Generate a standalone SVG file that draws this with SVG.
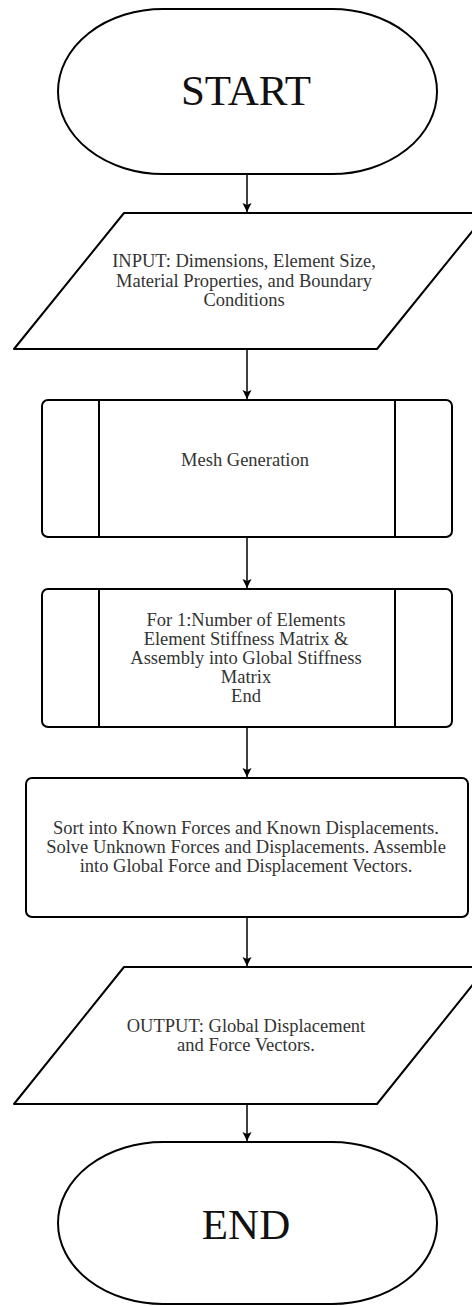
<svg xmlns="http://www.w3.org/2000/svg" width="472" height="1306" viewBox="0 0 472 1306">
<style>
.shape{fill:#fff;stroke:#000;stroke-width:2;stroke-linejoin:round}
.div{stroke:#000;stroke-width:2}
.t{font-family:"Liberation Serif","Times New Roman",serif;font-size:18.5px;fill:#333;text-anchor:middle}
.big{font-family:"Liberation Serif","Times New Roman",serif;font-size:43px;fill:#111;text-anchor:middle}
.conn{stroke:#000;stroke-width:1.5;fill:none}
</style>
<defs>
<marker id="arr" markerUnits="userSpaceOnUse" markerWidth="12" markerHeight="12" refX="9" refY="4.5" orient="auto">
<path d="M0,0 L9,4.5 L0,9 L2,4.5 z" fill="#000"/>
</marker>
</defs>
<rect width="472" height="1306" fill="#fff"/>
<g id="connectors">
<line class="conn" x1="247" y1="174" x2="247" y2="212" marker-end="url(#arr)"/>
<line class="conn" x1="247" y1="349" x2="247" y2="399" marker-end="url(#arr)"/>
<line class="conn" x1="247" y1="537" x2="247" y2="588" marker-end="url(#arr)"/>
<line class="conn" x1="247" y1="727" x2="247" y2="777" marker-end="url(#arr)"/>
<line class="conn" x1="247" y1="917" x2="247" y2="966" marker-end="url(#arr)"/>
<line class="conn" x1="247" y1="1104" x2="247" y2="1141" marker-end="url(#arr)"/>
</g>
<g id="start">
<rect class="shape" x="58" y="9" width="379" height="165" rx="105" ry="82.5"/>
<text class="big" x="246" y="105">START</text>
</g>
<g id="input">
<polygon class="shape" points="124,213 487,213 377,349 14,349"/>
<text class="t" x="244" y="267">INPUT: Dimensions, Element Size,</text>
<text class="t" x="244" y="286.5">Material Properties, and Boundary</text>
<text class="t" x="244" y="305.5">Conditions</text>
</g>
<g id="mesh">
<rect class="shape" x="42" y="400" width="410" height="137" rx="6"/>
<line class="div" x1="99" y1="400" x2="99" y2="537"/>
<line class="div" x1="395" y1="400" x2="395" y2="537"/>
<text class="t" x="245" y="466">Mesh Generation</text>
</g>
<g id="loop">
<rect class="shape" x="42" y="589" width="410" height="138" rx="6"/>
<line class="div" x1="99" y1="589" x2="99" y2="727"/>
<line class="div" x1="395" y1="589" x2="395" y2="727"/>
<text class="t" x="246" y="626">For 1:Number of Elements</text>
<text class="t" x="246" y="645">Element Stiffness Matrix &amp;</text>
<text class="t" x="246" y="664">Assembly into Global Stiffness</text>
<text class="t" x="246" y="683">Matrix</text>
<text class="t" x="246" y="702">End</text>
</g>
<g id="solve">
<rect class="shape" x="26" y="778" width="442" height="139" rx="6"/>
<text class="t" x="246" y="834">Sort into Known Forces and Known Displacements.</text>
<text class="t" x="246" y="853">Solve Unknown Forces and Displacements. Assemble</text>
<text class="t" x="246" y="872">into Global Force and Displacement Vectors.</text>
</g>
<g id="output">
<polygon class="shape" points="124,967 487,967 377,1104 14,1104"/>
<text class="t" x="246" y="1032">OUTPUT: Global Displacement</text>
<text class="t" x="246" y="1051">and Force Vectors.</text>
</g>
<g id="end">
<rect class="shape" x="58" y="1142" width="379" height="162" rx="105" ry="81"/>
<text class="big" x="246" y="1239">END</text>
</g>
</svg>
